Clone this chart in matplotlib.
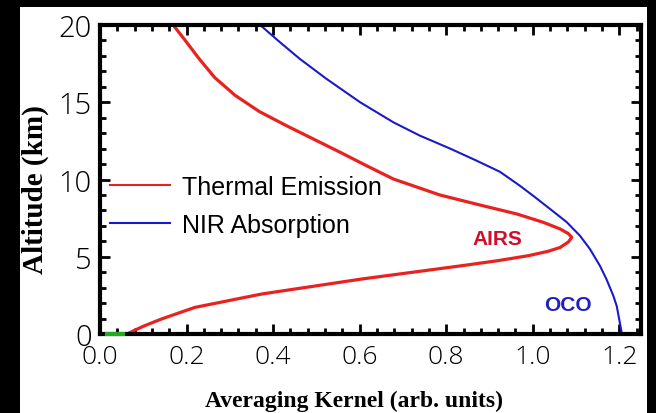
import numpy as np
import matplotlib
matplotlib.use("Agg")
import matplotlib.pyplot as plt
from matplotlib.patches import Rectangle
from matplotlib.ticker import MultipleLocator

# values (bottom to top)
thermal_x = [0.062, 0.10, 0.142, 0.219, 0.374, 0.605, 0.836, 0.92, 0.99, 1.035, 1.063, 1.082, 1.090,
             1.082, 1.063, 1.024, 0.963, 0.885, 0.785, 0.728, 0.678, 0.616, 0.555, 0.493,
             0.431, 0.368, 0.312, 0.265, 0.228, 0.197, 0.169]
thermal_y = [0.0, 0.5, 0.97, 1.72, 2.59, 3.56, 4.42, 4.75, 5.07, 5.35, 5.6, 5.95, 6.26,
             6.5, 6.8, 7.23, 7.77, 8.3, 9.0, 9.55, 10.03, 10.89, 11.76, 12.62,
             13.48, 14.4, 15.45, 16.6, 17.85, 19.0, 20.0]
nir_x = [1.206, 1.194, 1.186, 1.17, 1.155, 1.132, 1.109, 1.078, 1.04, 1.003, 0.97, 0.924,
         0.87, 0.809, 0.739, 0.678, 0.601, 0.524, 0.462, 0.416, 0.37]
nir_y = [0.0, 1.8, 2.48, 3.56, 4.42, 5.5, 6.36, 7.25, 8.09, 8.9, 9.6, 10.5,
         11.22, 12.0, 12.84, 13.7, 15.0, 16.5, 17.8, 18.88, 20.0]
green_x = [0.016, 0.053]
green_y = [0.0, 0.0]
xticks = [0.0, 0.2, 0.4, 0.6, 0.8, 1.0, 1.2]
yticks = [0, 5, 10, 15, 20]

tick_font = ['Open Sans', 'DejaVu Sans']
serif = ['Liberation Serif', 'DejaVu Serif']
sans = ['Liberation Sans', 'DejaVu Sans']

fig = plt.figure(figsize=(6.56, 4.14), dpi=100, facecolor='black')
# white panel behind the plot
fig.patches.append(Rectangle((20/656, 0), 627/656, 406/414, transform=fig.transFigure,
                             facecolor='white', edgecolor='none', zorder=-10))

ax = fig.add_axes([100/656, (414-335)/414, 541/656, 309/414])
ax.set_facecolor('white')
ax.set_zorder(5)

ax.plot(thermal_x, thermal_y, color='#e8231f', lw=2.3, label='Thermal Emission',
        solid_joinstyle='round')
ax.plot(nir_x, nir_y, color='#1a1acc', lw=1.5, label='NIR Absorption', solid_joinstyle='round')
ax.plot(green_x, green_y, color='#22aa22', lw=3, zorder=4, clip_on=False)

ax.set_xlim(0, 1.25)
ax.set_ylim(0, 20)
ax.set_xticks(xticks)
ax.set_xticklabels([f'{v:.1f}' for v in xticks])
ax.set_yticks(yticks)
ax.xaxis.set_minor_locator(MultipleLocator(0.04))
ax.yaxis.set_minor_locator(MultipleLocator(1))
ax.tick_params(which='both', direction='in', top=True, right=True, width=2, color='black')
ax.tick_params(which='major', length=7)
ax.tick_params(which='minor', length=4)
ax.tick_params(axis='x', which='major', pad=7)
ax.tick_params(axis='y', which='major', pad=6)
for lab in ax.get_xticklabels():
    lab.set_family(tick_font)
    lab.set_fontsize(19)
    lab.set_fontweight('light')
for lab in ax.get_yticklabels():
    lab.set_family(tick_font)
    lab.set_fontsize(21)
    lab.set_fontweight('light')
for sp in ax.spines.values():
    sp.set_linewidth(3)

ax.set_xlabel('Averaging Kernel (arb. units)', family=serif, fontweight='bold', fontsize=17)
ax.xaxis.set_label_coords(0.47, -0.18)
ax.set_ylabel('Altitude (km)', family=serif, fontweight='bold', fontsize=21)
ax.yaxis.set_label_coords(-0.094, 0.47)

leg = ax.legend(loc='upper left', bbox_to_anchor=(0.018, 0.515), frameon=False,
                prop={'family': sans, 'size': 18}, handlelength=2.4, handletextpad=0.5,
                labelspacing=0.55, borderpad=0, borderaxespad=0)
for h in leg.get_lines():
    h.set_linewidth(1.5)

ax.text(0.918, 6.15, 'AIRS', color='#d0102a', fontsize=15, fontweight='bold', family=sans,
        ha='center', va='center')
ax.text(1.081, 1.94, 'OCO', color='#2020c0', fontsize=15, fontweight='bold', family=sans,
        ha='center', va='center')

fig.savefig('out.png', dpi=100, facecolor='black')
